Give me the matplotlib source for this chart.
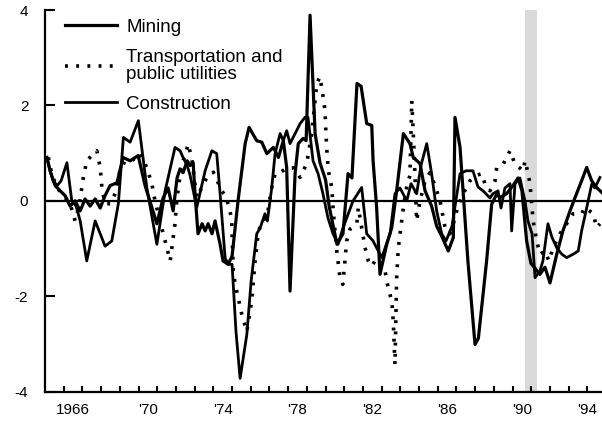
import numpy as np
import matplotlib.pyplot as plt

plt.rcParams['font.family'] = ['Liberation Sans', 'DejaVu Sans']
plt.rcParams['axes.unicode_minus'] = False

# values (year, value)
mining_t = [1965.10, 1965.27, 1965.54, 1965.81, 1966.07, 1966.34, 1966.61, 1966.88, 1967.14, 1967.41,
            1967.68, 1967.95, 1968.21, 1968.48, 1968.85, 1969.17, 1969.55, 1969.98, 1970.35, 1970.98,
            1971.31, 1971.58, 1971.85, 1972.06, 1972.22, 1972.38, 1972.60, 1972.76, 1972.92, 1973.02,
            1973.18, 1973.40, 1973.56, 1973.72, 1973.93, 1974.09, 1974.36, 1974.52, 1974.79, 1975.00,
            1975.32, 1975.70, 1975.91, 1976.32, 1976.59, 1976.86, 1977.21, 1977.48, 1977.74, 1977.92,
            1978.10, 1978.37, 1978.54, 1978.80, 1978.96, 1979.17, 1979.44, 1979.70, 1980.00, 1980.19,
            1980.61, 1980.93, 1981.20, 1981.41, 1981.68, 1981.90, 1982.20, 1982.47, 1982.54, 1982.73,
            1982.91, 1983.27, 1983.54, 1983.80, 1984.16, 1984.51, 1984.69, 1985.05, 1985.32, 1985.67,
            1985.94, 1986.21, 1986.56, 1986.83, 1986.92, 1987.19, 1987.61, 1987.99, 1988.17, 1988.61,
            1988.88, 1989.15, 1989.33, 1989.68, 1990.02, 1990.29, 1990.50, 1990.75, 1990.98, 1991.46,
            1991.73, 1992.00, 1992.36, 1992.69, 1993.07, 1993.33, 1993.69, 1993.96, 1994.23, 1994.49,
            1994.78]
mining_v = [0.91, 0.63, 0.32, 0.21, 0.11, -0.11, 0.00, -0.21, 0.04, -0.11,
            0.04, -0.15, 0.11, 0.32, 0.38, 0.91, 0.84, 0.95, 0.32, -0.48,
            0.06, 0.27, -0.21, 0.48, 0.67, 0.59, 0.84, 0.74, 0.80, 0.15,
            -0.69, -0.48, -0.63, -0.48, -0.69, -0.42, -0.91, -1.26, -1.33, -1.16,
            0.00, 1.20, 1.54, 1.26, 1.23, 0.99, 1.12, 0.91, 1.26, 0.70,
            -1.89, 0.57, 1.20, 1.31, 1.26, 3.89, 1.41, 0.80, 0.44, -0.11,
            -0.91, -0.69, 0.57, 0.48, 2.46, 2.40, 1.62, 1.58, 0.84, -0.14,
            -1.54, -0.91, -0.56, 0.21, 1.41, 1.20, 0.91, 0.78, 0.21, -0.11,
            -0.53, -0.74, -1.05, -0.77, 1.75, 1.12, -1.26, -3.01, -2.88, -1.26,
            -0.07, 0.14, 0.07, 0.15, 0.32, 0.48, 0.21, -0.84, -1.31, -1.54,
            -1.39, -1.72, -1.12, -0.63, -0.21, 0.06, 0.42, 0.70, 0.42, 0.28,
            0.17]

transport_t = [1965.18, 1965.36, 1965.63, 1965.90, 1966.34, 1966.61, 1966.82, 1967.05, 1967.23, 1967.50,
               1967.77, 1967.95, 1968.04, 1968.21, 1968.48, 1968.75, 1969.01, 1969.28, 1969.64, 1970.08,
               1970.44, 1970.71, 1970.88, 1971.15, 1971.51, 1971.69, 1971.95, 1972.04, 1972.22, 1972.38,
               1972.66, 1972.86, 1973.11, 1973.29, 1973.65, 1974.00, 1974.45, 1974.63, 1974.86, 1974.98,
               1975.07, 1975.25, 1975.52, 1975.79, 1976.05, 1976.23, 1976.39, 1976.59, 1976.86, 1977.12,
               1977.30, 1977.57, 1977.92, 1978.28, 1978.64, 1978.99, 1979.26, 1979.53, 1979.70, 1979.86,
               1979.97, 1980.02, 1980.08, 1980.15, 1980.33, 1980.41, 1980.60, 1980.77, 1980.92, 1981.04,
               1981.13, 1981.31, 1981.67, 1981.75, 1981.93, 1982.11, 1982.29, 1982.47, 1982.70, 1982.96,
               1983.18, 1983.35, 1983.54, 1983.62, 1983.71, 1983.80, 1983.89, 1984.07, 1984.16, 1984.35,
               1984.51, 1984.61, 1984.73, 1984.87, 1985.05, 1985.32, 1985.58, 1985.85, 1986.12, 1986.39,
               1986.65, 1986.83, 1987.08, 1987.36, 1987.72, 1988.04, 1988.35, 1988.52, 1988.79, 1989.06,
               1989.15, 1989.50, 1989.86, 1990.13, 1990.57, 1990.66, 1990.84, 1990.93, 1991.10, 1991.29,
               1991.46, 1991.73, 1991.94, 1992.17, 1992.53, 1992.89, 1993.24, 1993.69, 1993.87, 1994.31,
               1994.49, 1994.67]
transport_v = [0.91, 0.57, 0.28, 0.15, -0.06, -0.42, -0.11, 0.49, 0.84, 0.95,
               1.05, 0.70, 0.28, -0.06, -0.06, 0.15, 0.63, 0.84, 0.84, 0.99,
               0.70, 0.36, 0.00, -0.42, -0.98, -1.26, -0.48, 0.00, 0.53, 0.84,
               1.19, 0.84, 0.07, 0.21, 0.49, 0.60, 0.21, 0.11, -0.14, -0.42,
               -1.54, -1.89, -2.38, -2.74, -2.10, -1.26, -0.69, -0.42, -0.35, 0.27,
               0.57, 0.59, 0.69, 0.69, 0.49, 0.78, 1.41, 2.46, 2.60, 2.21,
               1.89, 1.41, 0.99, 0.63, 0.28, -0.21, -1.05, -1.61, -1.75, -1.22,
               -0.84, -0.59, -0.48, -0.14, -0.56, -0.98, -1.26, -1.37, -1.22, -1.31,
               -1.47, -1.83, -2.10, -2.53, -3.43, -1.61, -0.98, -0.42, -0.14, 0.32,
               0.53, 2.10, 1.05, -0.42, 0.00, 0.42, 0.59, 0.32, 0.00, -0.56,
               -0.69, -0.48, -0.11, 0.15, 0.42, 0.53, 0.57, 0.36, 0.21, 0.42,
               0.70, 0.77, 1.05, 0.77, 0.63, 0.84, 0.56, 0.35, -0.42, -0.84,
               -1.12, -1.05, -1.26, -0.98, -0.69, -0.48, -0.27, -0.27, -0.14, -0.27,
               -0.56, -0.48]

constr_t = [1965.10, 1965.27, 1965.43, 1965.65, 1965.86, 1966.17, 1966.43, 1966.66, 1966.88, 1967.23,
            1967.68, 1968.21, 1968.57, 1968.92, 1969.19, 1969.55, 1969.99, 1970.44, 1970.98, 1971.42,
            1971.95, 1972.22, 1972.38, 1972.60, 1972.76, 1973.11, 1973.56, 1973.92, 1974.18, 1974.36,
            1974.63, 1974.80, 1975.00, 1975.21, 1975.43, 1975.79, 1976.02, 1976.32, 1976.50, 1976.76,
            1976.89, 1977.12, 1977.30, 1977.57, 1977.74, 1977.92, 1978.10, 1978.37, 1978.64, 1978.90,
            1979.06, 1979.33, 1979.60, 1979.86, 1980.13, 1980.40, 1980.67, 1980.93, 1981.47, 1981.93,
            1982.20, 1982.54, 1983.00, 1983.45, 1983.71, 1983.98, 1984.34, 1984.57, 1984.87, 1985.10,
            1985.41, 1985.67, 1985.94, 1986.21, 1986.44, 1986.76, 1987.19, 1987.51, 1987.88, 1988.15,
            1988.42, 1988.79, 1988.95, 1989.22, 1989.38, 1989.59, 1989.86, 1989.95, 1990.13, 1990.39,
            1990.66, 1990.82, 1991.04, 1991.20, 1991.46, 1991.62, 1991.89, 1992.10, 1992.37, 1992.64,
            1992.89, 1993.23, 1993.51, 1993.69, 1993.96, 1994.23, 1994.40, 1994.67]
constr_v = [0.91, 0.63, 0.42, 0.32, 0.42, 0.80, 0.00, -0.11, -0.42, -1.26,
            -0.42, -0.95, -0.84, -0.06, 1.33, 1.23, 1.68, 0.28, -0.91, 0.21,
            1.12, 1.05, 0.91, 0.74, 0.53, -0.14, 0.63, 1.05, 0.99, 0.15,
            -1.20, -1.33, -1.33, -2.74, -3.72, -2.80, -1.68, -0.69, -0.57, -0.27,
            -0.42, 0.27, 0.99, 1.41, 1.26, 1.47, 1.20, 1.41, 1.62, 1.75,
            1.75, 0.84, 0.57, 0.15, -0.36, -0.69, -0.91, -0.57, 0.00, 0.28,
            -0.69, -0.84, -1.19, -0.69, 0.15, 0.27, 0.00, 0.36, 0.15, 0.74,
            1.20, 0.57, -0.21, -0.69, -0.84, -0.53, 0.57, 0.63, 0.63, 0.29,
            0.21, 0.06, 0.15, 0.21, -0.15, 0.27, 0.36, -0.63, 0.36, 0.48,
            0.00, -0.42, -0.69, -1.61, -1.47, -1.26, -0.48, -0.76, -0.99, -1.12,
            -1.19, -1.12, -1.05, -0.63, -0.15, 0.35, 0.27, 0.49]

recession = (1990.64, 1991.33)

year_ticks = np.arange(1966, 1995)
label_pos = [1966.5, 1970.5, 1974.5, 1978.5, 1982.5, 1986.5, 1990.5, 1994.5]
label_txt = ['1966', "'70", "'74", "'78", "'82", "'86", "'90", "'94"]

fig = plt.figure(figsize=(6.02, 4.22), dpi=100)
ax = fig.add_axes([0.0748, 0.0718, 0.9252, 0.9045])

ax.axvspan(recession[0], recession[1], color='#dadada', lw=0, zorder=0)
ax.axhline(0, color='black', lw=1.6, zorder=1)

ax.plot(mining_t, mining_v, color='black', lw=2.3, label='Mining', zorder=3)
ax.plot(transport_t, transport_v, color='black', lw=2.6, linestyle=(0, (0.8, 2.3)),
        label='Transportation and\npublic utilities', zorder=3)
ax.plot(constr_t, constr_v, color='black', lw=2.0, label='Construction', zorder=3)

ax.set_xlim(1965.0, 1994.78)
ax.set_ylim(-4, 4)

ax.set_xticks(label_pos)
ax.set_xticklabels(label_txt)
ax.set_xticks(year_ticks, minor=True)
ax.tick_params(axis='x', which='major', length=0, pad=8, labelsize=11)
ax.tick_params(axis='x', which='minor', direction='in', length=4, width=1.5)
# last label sits on the right edge; keep it inside the canvas
ax.get_xticklabels()[-1].set_horizontalalignment('right')
ax.set_yticks([-4, -2, 0, 2, 4])
ax.set_yticklabels(['-4', '-2', '0', '2', '4'])
ax.tick_params(axis='y', direction='in', length=7, width=1.5, pad=12, labelsize=11)

for s in ['top', 'right']:
    ax.spines[s].set_visible(False)
for s in ['left', 'bottom']:
    ax.spines[s].set_linewidth(1.6)

leg = ax.legend(loc='upper left', bbox_to_anchor=(0.036, 0.977), frameon=False,
                fontsize=13.5, handlelength=2.75, handletextpad=0.5,
                borderpad=0, borderaxespad=0, labelspacing=0.68)
for t in leg.get_texts():
    t.set_linespacing(1.0)

fig.savefig('out.png', dpi=100)
